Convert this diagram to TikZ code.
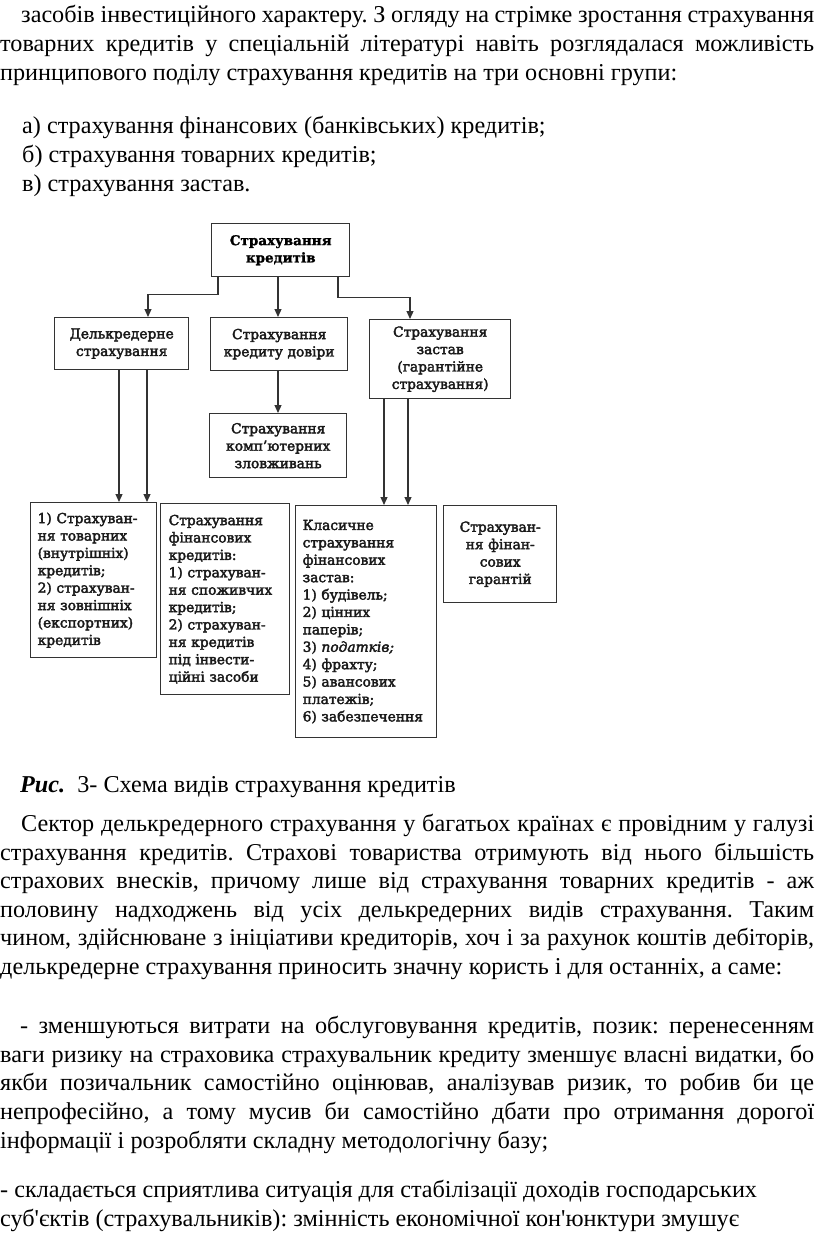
\documentclass[tikz,border=0pt]{standalone}
\usepackage{fontspec}
\newfontfamily\bodyfont{Liberation Serif}
\newfontfamily\dfont{DejaVu Serif}[FakeBold=2.6]
\newfontfamily\dfontb{DejaVu Serif Bold}[FakeBold=1.2]
\usetikzlibrary{arrows.meta,calc}
\newcommand{\jline}[2]{\makebox[#1pt][s]{#2}}
\frenchspacing
\begin{document}
\begin{tikzpicture}[x=1pt,y=-1pt,
  ln/.style={anchor=base west, inner sep=0pt, font=\bodyfont\frenchspacing\fontsize{24.2}{28}\selectfont},
  box/.style={draw=black!80, line width=1.4pt, inner xsep=8pt, inner ysep=0pt, anchor=north west,
    text=black!90, font=\dfont\fontsize{13.8}{17.4}\selectfont},
  conn/.style={draw=black!80, line width=1.2pt, -{Triangle[width=7pt,length=8pt]}}]
\useasboundingbox[fill=white] (0,0) rectangle (816,1240);

% ---------- text above ----------
\node[ln] (p1a) at (21,22) {\jline{793}{засобів інвестиційного характеру. З огляду на стрімке зростання страхування}};
\node[ln] (p1b) at (0,51) {\jline{814}{товарних кредитів у спеціальній літературі навіть розглядалася можливість}};
\node[ln] (p1c) at (0,80) {принципового поділу страхування кредитів на три основні групи:};
\node[ln] (la) at (22,133) {а) страхування фінансових (банківських) кредитів;};
\node[ln] (lb) at (22,162) {б) страхування товарних кредитів;};
\node[ln] (lc) at (22,191) {в) страхування застав.};

% ---------- diagram ----------
\node[box, font=\dfontb\fontsize{13.5}{17.3}\selectfont, text=black, align=center, text width=122pt, minimum height=53pt] (top) at (211,223) {Страхування\\кредитів};
\node[box, align=center, text width=118pt, minimum height=52pt] (delk) at (54,317) {Делькредерне\\страхування};
\node[box, align=center, text width=121pt, minimum height=53pt] (dov) at (210,317) {Страхування\\кредиту довіри};
\node[box, align=center, text width=125pt, minimum height=79pt] (zast) at (369,319) {Страхування\\застав\\(гарантійне\\страхування)};
\node[box, align=center, text width=121pt, minimum height=64pt] (komp) at (209,413) {Страхування\\комп’ютерних\\зловживань};
\node[box, align=left, text width=112pt, inner xsep=7pt, minimum height=155pt] (b1) at (30,502) {1) Страхуван-\\ня товарних\\(внутрішніх)\\кредитів;\\2) страхуван-\\ня зовнішніх\\(експортних)\\кредитів};
\node[box, align=left, text width=113pt, minimum height=191pt] (b2) at (160,503) {Страхування\\фінансових\\кредитів:\\1) страхуван-\\ня споживчих\\кредитів;\\2) страхуван-\\ня кредитів\\під інвести-\\ційні засоби};
\node[box, align=left, text width=127pt, inner xsep=7pt, minimum height=232pt] (b3) at (295,505) {Класичне\\страхування\\фінансових\\застав:\\1) будівель;\\2) цінних\\паперів;\\3) \textit{податків;}\\4) фрахту;\\5) авансових\\платежів;\\6) забезпечення};
\node[box, align=center, text width=97pt, minimum height=97pt] (b4) at (443,505) {Страхуван-\\ня фінан-\\сових\\гарантій};

\draw[conn] ($(top.south west)+(7,0)$) -- ++(0,17) -| ($(delk.north west)+(94,0)$);
\draw[conn] ($(top.south west)+(67,0)$) -- ($(dov.north west)+(68,0)$);
\draw[conn] ($(top.south west)+(127,0)$) -- ++(0,20) -| ($(zast.north west)+(41,0)$);
\draw[conn] ($(dov.south west)+(68,0)$) -- ($(komp.north west)+(69,0)$);
\draw[conn] ($(delk.south west)+(65,0)$) -- ($(b1.north west)+(89,0)$);
\draw[conn] ($(delk.south west)+(93,0)$) -- ($(b1.north west)+(117,0)$);
\draw[conn] ($(zast.south west)+(15,0)$) -- ($(b3.north west)+(89,0)$);
\draw[conn] ($(zast.south west)+(39,0)$) -- ($(b3.north west)+(113,0)$);

% ---------- caption and text below ----------
\node[ln] (cap) at (20,792) {{\bfseries\itshape Рис.}\ \ 3- Схема видів страхування кредитів};

\node[ln] (p2a) at (21,831) {\jline{793}{Сектор делькредерного страхування у багатьох країнах є провідним у галузі}};
\node[ln] (p2b) at (0,860) {\jline{814}{страхування кредитів. Страхові товариства отримують від нього більшість}};
\node[ln] (p2c) at (0,888) {\jline{814}{страхових внесків, причому лише від страхування товарних кредитів - аж}};
\node[ln] (p2d) at (0,917) {\jline{814}{половину надходжень від усіх делькредерних видів страхування. Таким}};
\node[ln] (p2e) at (0,945) {\jline{814}{чином, здійснюване з ініціативи кредиторів, хоч і за рахунок коштів дебіторів,}};
\node[ln] (p2f) at (0,974) {делькредерне страхування приносить значну користь і для останніх, а саме:};

\node[ln] (p3a) at (20,1033) {\jline{794}{- зменшуються витрати на обслуговування кредитів, позик: перенесенням}};
\node[ln] (p3b) at (0,1062) {\jline{814}{ваги ризику на страховика страхувальник кредиту зменшує власні видатки, бо}};
\node[ln] (p3c) at (0,1090) {\jline{814}{якби позичальник самостійно оцінював, аналізував ризик, то робив би це}};
\node[ln] (p3d) at (0,1119) {\jline{814}{непрофесійно, а тому мусив би самостійно дбати про отримання дорогої}};
\node[ln] (p3e) at (0,1148) {інформації і розробляти складну методологічну базу;};

\node[ln] (p4a) at (0,1197) {- складається сприятлива ситуація для стабілізації доходів господарських};
\node[ln] (p4b) at (0,1226) {суб'єктів (страхувальників): змінність економічної кон'юнктури змушує};
\end{tikzpicture}
\end{document}
